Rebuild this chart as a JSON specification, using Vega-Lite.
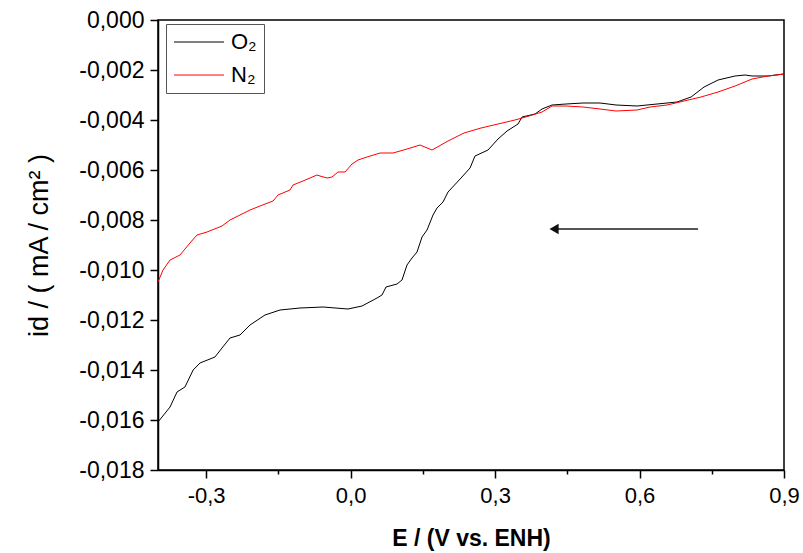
{
  "$schema": "https://vega.github.io/schema/vega-lite/v6.json",
  "width": 626,
  "height": 450,
  "autosize": {"type": "none"},
  "padding": {"left": 158, "top": 20, "right": 19, "bottom": 83},
  "background": "white",
  "config": {
    "locale": {"number": {"decimal": ",", "thousands": ".", "grouping": [3], "currency": ["", ""], "minus": "-"}},
    "view": {"stroke": "#000", "strokeWidth": 1.5},
    "font": "Liberation Sans"
  },
  "datasets": {
    "curves": [
      {"gas": "O₂", "E": -0.400, "i": -0.01608},
      {"gas": "O₂", "E": -0.375, "i": -0.01548},
      {"gas": "O₂", "E": -0.3605, "i": -0.01488},
      {"gas": "O₂", "E": -0.344, "i": -0.01468},
      {"gas": "O₂", "E": -0.327, "i": -0.0140},
      {"gas": "O₂", "E": -0.3128, "i": -0.01372},
      {"gas": "O₂", "E": -0.2817, "i": -0.01348},
      {"gas": "O₂", "E": -0.2671, "i": -0.01312},
      {"gas": "O₂", "E": -0.2505, "i": -0.01272},
      {"gas": "O₂", "E": -0.2297, "i": -0.0126},
      {"gas": "O₂", "E": -0.2089, "i": -0.0122},
      {"gas": "O₂", "E": -0.1778, "i": -0.0118},
      {"gas": "O₂", "E": -0.1466, "i": -0.0116},
      {"gas": "O₂", "E": -0.1051, "i": -0.01152},
      {"gas": "O₂", "E": -0.0573, "i": -0.01148},
      {"gas": "O₂", "E": -0.0054, "i": -0.01156},
      {"gas": "O₂", "E": 0.0237, "i": -0.01144},
      {"gas": "O₂", "E": 0.0548, "i": -0.01112},
      {"gas": "O₂", "E": 0.0652, "i": -0.0110},
      {"gas": "O₂", "E": 0.0735, "i": -0.01068},
      {"gas": "O₂", "E": 0.0964, "i": -0.01056},
      {"gas": "O₂", "E": 0.1067, "i": -0.0104},
      {"gas": "O₂", "E": 0.1171, "i": -0.0098},
      {"gas": "O₂", "E": 0.1275, "i": -0.00952},
      {"gas": "O₂", "E": 0.1379, "i": -0.00928},
      {"gas": "O₂", "E": 0.1483, "i": -0.00868},
      {"gas": "O₂", "E": 0.1587, "i": -0.0084},
      {"gas": "O₂", "E": 0.1711, "i": -0.0078},
      {"gas": "O₂", "E": 0.1794, "i": -0.00752},
      {"gas": "O₂", "E": 0.1919, "i": -0.00728},
      {"gas": "O₂", "E": 0.2023, "i": -0.00688},
      {"gas": "O₂", "E": 0.2293, "i": -0.00632},
      {"gas": "O₂", "E": 0.2480, "i": -0.00592},
      {"gas": "O₂", "E": 0.2584, "i": -0.00544},
      {"gas": "O₂", "E": 0.2854, "i": -0.0052},
      {"gas": "O₂", "E": 0.3061, "i": -0.00476},
      {"gas": "O₂", "E": 0.3248, "i": -0.00444},
      {"gas": "O₂", "E": 0.3477, "i": -0.00416},
      {"gas": "O₂", "E": 0.3560, "i": -0.00388},
      {"gas": "O₂", "E": 0.3830, "i": -0.00376},
      {"gas": "O₂", "E": 0.3975, "i": -0.00356},
      {"gas": "O₂", "E": 0.4183, "i": -0.0034},
      {"gas": "O₂", "E": 0.4474, "i": -0.00336},
      {"gas": "O₂", "E": 0.4827, "i": -0.00332},
      {"gas": "O₂", "E": 0.5180, "i": -0.00332},
      {"gas": "O₂", "E": 0.5512, "i": -0.0034},
      {"gas": "O₂", "E": 0.5948, "i": -0.00344},
      {"gas": "O₂", "E": 0.6364, "i": -0.00336},
      {"gas": "O₂", "E": 0.6779, "i": -0.00328},
      {"gas": "O₂", "E": 0.7070, "i": -0.00308},
      {"gas": "O₂", "E": 0.7340, "i": -0.00268},
      {"gas": "O₂", "E": 0.7631, "i": -0.0024},
      {"gas": "O₂", "E": 0.7984, "i": -0.00224},
      {"gas": "O₂", "E": 0.8192, "i": -0.0022},
      {"gas": "O₂", "E": 0.8337, "i": -0.00224},
      {"gas": "O₂", "E": 0.8669, "i": -0.00224},
      {"gas": "O₂", "E": 0.900, "i": -0.00216},
      {"gas": "N₂", "E": -0.400, "i": -0.01048},
      {"gas": "N₂", "E": -0.3896, "i": -0.0100},
      {"gas": "N₂", "E": -0.375, "i": -0.0096},
      {"gas": "N₂", "E": -0.3543, "i": -0.0094},
      {"gas": "N₂", "E": -0.3336, "i": -0.00892},
      {"gas": "N₂", "E": -0.319, "i": -0.0086},
      {"gas": "N₂", "E": -0.2982, "i": -0.00848},
      {"gas": "N₂", "E": -0.2774, "i": -0.00832},
      {"gas": "N₂", "E": -0.2671, "i": -0.00824},
      {"gas": "N₂", "E": -0.2505, "i": -0.0080},
      {"gas": "N₂", "E": -0.2297, "i": -0.0078},
      {"gas": "N₂", "E": -0.2089, "i": -0.0076},
      {"gas": "N₂", "E": -0.1881, "i": -0.00744},
      {"gas": "N₂", "E": -0.1611, "i": -0.00724},
      {"gas": "N₂", "E": -0.1508, "i": -0.0070},
      {"gas": "N₂", "E": -0.1259, "i": -0.0068},
      {"gas": "N₂", "E": -0.1196, "i": -0.0066},
      {"gas": "N₂", "E": -0.0989, "i": -0.00644},
      {"gas": "N₂", "E": -0.0698, "i": -0.0062},
      {"gas": "N₂", "E": -0.0636, "i": -0.00624},
      {"gas": "N₂", "E": -0.0490, "i": -0.00632},
      {"gas": "N₂", "E": -0.0386, "i": -0.00628},
      {"gas": "N₂", "E": -0.0262, "i": -0.00608},
      {"gas": "N₂", "E": -0.0116, "i": -0.00608},
      {"gas": "N₂", "E": 0.0029, "i": -0.00576},
      {"gas": "N₂", "E": 0.0154, "i": -0.0056},
      {"gas": "N₂", "E": 0.0341, "i": -0.00548},
      {"gas": "N₂", "E": 0.0611, "i": -0.00532},
      {"gas": "N₂", "E": 0.0881, "i": -0.00532},
      {"gas": "N₂", "E": 0.1172, "i": -0.00516},
      {"gas": "N₂", "E": 0.1441, "i": -0.0050},
      {"gas": "N₂", "E": 0.1691, "i": -0.0052},
      {"gas": "N₂", "E": 0.2023, "i": -0.00484},
      {"gas": "N₂", "E": 0.2355, "i": -0.00452},
      {"gas": "N₂", "E": 0.2708, "i": -0.00432},
      {"gas": "N₂", "E": 0.3061, "i": -0.00416},
      {"gas": "N₂", "E": 0.3414, "i": -0.0040},
      {"gas": "N₂", "E": 0.3705, "i": -0.00384},
      {"gas": "N₂", "E": 0.3975, "i": -0.00368},
      {"gas": "N₂", "E": 0.4183, "i": -0.00344},
      {"gas": "N₂", "E": 0.4474, "i": -0.00344},
      {"gas": "N₂", "E": 0.4827, "i": -0.00348},
      {"gas": "N₂", "E": 0.5180, "i": -0.00356},
      {"gas": "N₂", "E": 0.5512, "i": -0.00364},
      {"gas": "N₂", "E": 0.5948, "i": -0.0036},
      {"gas": "N₂", "E": 0.6218, "i": -0.00348},
      {"gas": "N₂", "E": 0.6571, "i": -0.0034},
      {"gas": "N₂", "E": 0.6924, "i": -0.00324},
      {"gas": "N₂", "E": 0.7277, "i": -0.00308},
      {"gas": "N₂", "E": 0.7631, "i": -0.00288},
      {"gas": "N₂", "E": 0.7984, "i": -0.00264},
      {"gas": "N₂", "E": 0.8337, "i": -0.00236},
      {"gas": "N₂", "E": 0.8669, "i": -0.00224},
      {"gas": "N₂", "E": 0.900, "i": -0.00216}
    ],
    "arrow": [
      {"E": 0.7215, "i": -0.00836},
      {"E": 0.425, "i": -0.00836}
    ],
    "head": [
      {"E": 0.4225, "i": -0.00836}
    ]
  },
  "layer": [
    {
      "data": {"name": "curves"},
      "mark": {"type": "line", "strokeWidth": 1, "clip": true},
      "encoding": {
        "x": {
          "field": "E", "type": "quantitative",
          "scale": {"domain": [-0.4, 0.9], "nice": false, "zero": false},
          "axis": {
            "values": [-0.3, -0.15, 0, 0.15, 0.3, 0.45, 0.6, 0.75, 0.9],
            "format": ".1f",
            "labelExpr": "round(datum.value*100) % 30 == 0 ? datum.label : ''",
            "tickSize": {"condition": {"test": "round(datum.value*100) % 30 == 0", "value": 8}, "value": 4},
            "grid": false,
            "labelFlush": false,
            "labelOverlap": false,
            "labelFontSize": 22,
            "labelColor": "#000",
            "labelPadding": 7,
            "tickColor": "#000",
            "tickWidth": 1.5,
            "domainColor": "#000",
            "domainWidth": 1.5,
            "title": "E / (V vs. ENH)",
            "titleFontSize": 23,
            "titleFontWeight": "bold",
            "titleColor": "#000",
            "titlePadding": 21
          }
        },
        "y": {
          "field": "i", "type": "quantitative",
          "scale": {"domain": [-0.018, 0], "nice": false, "zero": false},
          "axis": {
            "values": [-0.018, -0.017, -0.016, -0.015, -0.014, -0.013, -0.012, -0.011, -0.010, -0.009, -0.008, -0.007, -0.006, -0.005, -0.004, -0.003, -0.002, -0.001, 0],
            "format": ".3f",
            "labelExpr": "round(datum.value*1000) % 2 == 0 ? datum.label : ''",
            "tickSize": {"condition": {"test": "round(datum.value*1000) % 2 == 0", "value": 8}, "value": 4},
            "grid": false,
            "labelFlush": false,
            "labelOverlap": false,
            "labelFontSize": 23,
            "labelColor": "#000",
            "labelPadding": 6,
            "tickColor": "#000",
            "tickWidth": 1.5,
            "domainColor": "#000",
            "domainWidth": 1.5,
            "title": "id / ( mA / cm² )",
            "titleFontSize": 27,
            "titleFontWeight": "normal",
            "titleColor": "#000",
            "titlePadding": 25
          }
        },
        "color": {
          "field": "gas", "type": "nominal",
          "scale": {"domain": ["O₂", "N₂"], "range": ["#000000", "#ff0000"]},
          "legend": {
            "title": null,
            "orient": "none",
            "legendX": 8,
            "legendY": 4,
            "symbolType": "M-1,0H4",
            "symbolSize": 400,
            "symbolStrokeWidth": 1,
            "labelFontSize": 22,
            "labelColor": "#000",
            "labelOffset": 36,
            "rowPadding": 11,
            "padding": 7,
            "strokeColor": "#555",
            "fillColor": "#fff"
          }
        }
      }
    },
    {
      "data": {"name": "arrow"},
      "mark": {"type": "line", "color": "#555", "strokeWidth": 2},
      "encoding": {
        "x": {"field": "E", "type": "quantitative"},
        "y": {"field": "i", "type": "quantitative"}
      }
    },
    {
      "data": {"name": "head"},
      "mark": {"type": "point", "shape": "triangle-left", "filled": true, "color": "#111", "opacity": 1, "size": 110},
      "encoding": {
        "x": {"field": "E", "type": "quantitative"},
        "y": {"field": "i", "type": "quantitative"}
      }
    }
  ]
}
